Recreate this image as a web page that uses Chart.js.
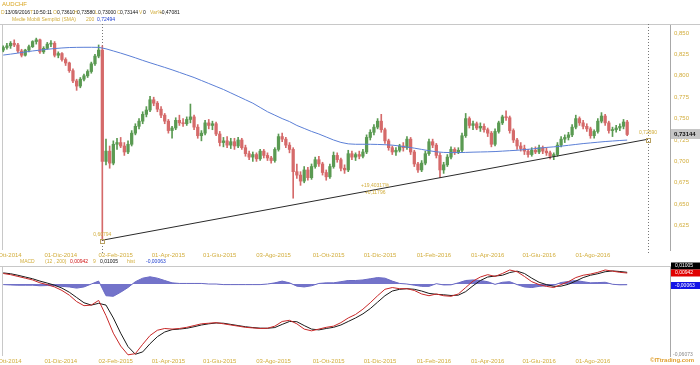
<!DOCTYPE html>
<html><head><meta charset="utf-8">
<script src="https://cdn.jsdelivr.net/npm/chart.js@4.4.1/dist/chart.umd.min.js"></script>
<style>
body{margin:0;width:700px;height:365px;background:#fff;position:relative;overflow:hidden;font-family:Arial,"Liberation Sans",sans-serif;}
canvas{position:absolute;left:0;}
.t{position:absolute;font-size:5px;line-height:6px;white-space:nowrap;z-index:5;}
.y{color:#d2ad3c}.k{color:#111}.r{color:#d01010}.b{color:#2040d0}
</style></head><body>
<canvas id="main" width="700" height="264" style="top:0"></canvas>
<canvas id="macd" width="700" height="103" style="top:262px"></canvas>

<div class="t" style="left:2px;top:1px;color:#d9a520;font-size:6px">AUDCHF</div>
<div class="t y" style="left:1px;top:9px">D</div><div class="t k" style="left:5px;top:9px">13/09/2016</div>
<div class="t y" style="left:30px;top:9px">T</div><div class="t k" style="left:33px;top:9px">10:50:11</div>
<div class="t y" style="left:53px;top:9px">O</div><div class="t k" style="left:57px;top:9px">0,73610</div>
<div class="t y" style="left:74px;top:9px">H</div><div class="t k" style="left:77px;top:9px">0,73580</div>
<div class="t y" style="left:95px;top:9px">L</div><div class="t k" style="left:98px;top:9px">0,73000</div>
<div class="t y" style="left:117px;top:9px">C</div><div class="t k" style="left:120px;top:9px">0,73144</div>
<div class="t y" style="left:139px;top:9px">V</div><div class="t k" style="left:143px;top:9px">0</div>
<div class="t y" style="left:150px;top:9px">Var%</div><div class="t k" style="left:160px;top:9px">-0,47081</div>
<div class="t y" style="left:12px;top:16px">Medie Mobili Semplici (SMA)</div>
<div class="t y" style="left:86px;top:16px">200</div><div class="t b" style="left:97px;top:16px">0,72494</div>

<div class="t y" style="left:20px;top:258px">MACD</div>
<div class="t y" style="left:45px;top:258px">(12 , 200)</div>
<div class="t r" style="left:70px;top:258px">0,00942</div>
<div class="t y" style="left:93px;top:258px">9</div>
<div class="t k" style="left:100px;top:258px">0,01005</div>
<div class="t y" style="left:127px;top:258px">hist</div>
<div class="t b" style="left:146px;top:258px">-0,00063</div>
<div class="t" style="left:650px;top:357px;font-size:6px;font-weight:bold;color:#e0a030">©ITtrading.com</div>

<script>
// ---- data ----
const tickLabels = ["01-Ott-2014","01-Dic-2014","02-Feb-2015","01-Apr-2015","01-Giu-2015","03-Ago-2015","01-Ott-2015","01-Dic-2015","01-Feb-2016","01-Apr-2016","01-Giu-2016","01-Ago-2016"];
const tickDays = [2,47,92,135,177,221,266,308,352,396,438,482];
const priceTicks = [0.625,0.650,0.675,0.700,0.725,0.750,0.775,0.800,0.825,0.850];
const candleStep = 3;   // trading days per candle
const opens = [.830,.833,.835,.838,.836,.829,.824,.830,.834,.840,.842,.828,.832,.837,.838,.824,.826,.819,.815,.806,.794,.788,.796,.800,.805,.814,.823,.830,.700,.712,.698,.720,.722,.718,.711,.720,.733,.741,.747,.755,.760,.772,.768,.761,.754,.747,.736,.739,.748,.745,.744,.749,.752,.740,.730,.733,.745,.742,.744,.732,.722,.724,.719,.723,.718,.725,.716,.709,.705,.708,.703,.712,.707,.704,.701,.714,.729,.726,.719,.714,.688,.684,.677,.690,.681,.694,.702,.697,.687,.682,.694,.707,.702,.692,.690,.709,.705,.708,.706,.711,.728,.734,.740,.747,.737,.724,.716,.711,.713,.718,.716,.726,.711,.697,.690,.698,.709,.723,.719,.707,.690,.696,.705,.714,.711,.713,.730,.750,.742,.744,.739,.741,.737,.733,.720,.735,.745,.752,.751,.736,.725,.718,.715,.712,.708,.713,.711,.716,.712,.710,.706,.708,.719,.726,.728,.731,.740,.750,.745,.741,.738,.730,.735,.747,.753,.745,.736,.737,.739,.741,.746];
const highs = [.835,.838,.840,.842,.838,.831,.831,.836,.841,.844,.843,.834,.839,.841,.840,.828,.827,.821,.816,.808,.796,.798,.802,.807,.816,.825,.836,.835,.726,.718,.724,.727,.728,.722,.724,.736,.744,.750,.758,.764,.776,.775,.770,.764,.756,.749,.741,.751,.754,.750,.752,.767,.754,.743,.736,.748,.749,.747,.746,.735,.728,.729,.727,.727,.728,.727,.719,.712,.711,.710,.714,.714,.710,.706,.716,.732,.733,.728,.722,.716,.697,.688,.694,.693,.697,.705,.706,.699,.690,.697,.711,.710,.704,.696,.713,.712,.710,.712,.714,.731,.737,.743,.750,.755,.739,.726,.718,.716,.720,.722,.729,.728,.713,.699,.701,.712,.726,.726,.721,.710,.699,.708,.717,.716,.716,.733,.756,.752,.747,.746,.745,.744,.739,.735,.738,.747,.754,.759,.753,.738,.727,.722,.719,.714,.716,.717,.719,.718,.716,.712,.710,.722,.729,.731,.734,.743,.754,.752,.748,.744,.740,.737,.750,.757,.755,.747,.740,.742,.744,.749,.748];
const lows = [.828,.831,.832,.834,.827,.822,.823,.828,.833,.837,.826,.826,.831,.834,.822,.821,.817,.812,.804,.792,.783,.786,.794,.798,.803,.812,.821,.608,.696,.692,.696,.714,.716,.707,.709,.718,.731,.738,.744,.752,.758,.765,.758,.751,.744,.733,.727,.737,.742,.741,.742,.745,.737,.727,.724,.731,.738,.737,.730,.718,.717,.716,.715,.714,.716,.714,.706,.702,.700,.700,.701,.704,.701,.698,.699,.712,.723,.716,.710,.657,.680,.672,.675,.678,.679,.692,.694,.684,.678,.680,.692,.699,.689,.686,.688,.702,.701,.703,.704,.709,.725,.731,.738,.734,.721,.713,.708,.707,.711,.712,.714,.708,.694,.687,.688,.696,.707,.716,.704,.681,.686,.694,.703,.708,.709,.711,.728,.739,.737,.737,.735,.734,.729,.717,.718,.733,.743,.748,.733,.722,.714,.712,.708,.705,.706,.709,.709,.709,.707,.703,.702,.706,.717,.722,.725,.729,.738,.742,.738,.735,.727,.727,.733,.745,.742,.733,.729,.734,.736,.738,.730];
const closes = [.833,.835,.838,.836,.829,.824,.830,.834,.840,.842,.828,.832,.837,.838,.824,.826,.819,.815,.806,.794,.788,.796,.800,.805,.814,.823,.830,.700,.712,.698,.720,.722,.718,.711,.720,.733,.741,.747,.755,.760,.772,.768,.761,.754,.747,.736,.739,.748,.745,.744,.749,.752,.740,.730,.733,.745,.742,.744,.732,.722,.724,.719,.723,.718,.725,.716,.709,.705,.708,.703,.712,.707,.704,.701,.714,.729,.726,.719,.714,.688,.684,.677,.690,.681,.694,.702,.697,.687,.682,.694,.707,.702,.692,.690,.709,.705,.708,.706,.711,.728,.734,.740,.747,.737,.724,.716,.711,.713,.718,.716,.726,.711,.697,.690,.698,.709,.723,.719,.707,.690,.696,.705,.714,.711,.713,.730,.750,.742,.744,.739,.741,.737,.733,.720,.735,.745,.752,.751,.736,.725,.718,.715,.712,.708,.713,.711,.716,.712,.710,.706,.708,.719,.726,.728,.731,.740,.750,.745,.741,.738,.730,.735,.747,.753,.745,.736,.737,.739,.741,.746,.73144];
const lineStep = 6;     // trading days per SMA / MACD point
const smaValues = [0.8242,0.8253,0.8265,0.8278,0.8290,0.8300,0.8310,0.8318,0.8325,0.8330,
 0.8332,0.8333,0.8333,0.8332,0.8315,0.8290,0.8265,0.8238,0.8210,0.8180,
 0.8152,0.8125,0.8098,0.8070,0.8040,0.8010,0.7980,0.7945,0.7910,0.7875,
 0.7840,0.7800,0.7760,0.7720,0.7680,0.7630,0.7580,0.7540,0.7500,0.7465,
 0.7420,0.7385,0.7350,0.7320,0.7285,0.7250,0.7222,0.7205,0.7200,0.7200,
 0.7200,0.7198,0.7195,0.7190,0.7180,0.7168,0.7155,0.7140,0.7125,0.7112,
 0.7105,0.7103,0.7103,0.7105,0.7108,0.7110,0.7112,0.7115,0.7120,0.7125,
 0.7130,0.7138,0.7145,0.7155,0.7163,0.7170,0.7178,0.7188,0.7198,0.7208,
 0.7216,0.7224,0.7232,0.7238,0.7244,0.7249];
const macdValues = [0.0090,0.0080,0.0065,0.0050,0.0035,0.0010,-0.0005,-0.0025,-0.0055,-0.0095,
 -0.0150,-0.0185,-0.0180,-0.0140,-0.0270,-0.0420,-0.0530,-0.0605,-0.0595,-0.0515,
 -0.0440,-0.0395,-0.0380,-0.0385,-0.0380,-0.0370,-0.0355,-0.0340,-0.0335,-0.0330,
 -0.0340,-0.0350,-0.0360,-0.0370,-0.0375,-0.0380,-0.0378,-0.0360,-0.0320,-0.0310,
 -0.0340,-0.0385,-0.0400,-0.0385,-0.0370,-0.0360,-0.0330,-0.0290,-0.0260,-0.0215,
 -0.0160,-0.0100,-0.0045,-0.0030,-0.0040,-0.0040,-0.0055,-0.0085,-0.0100,-0.0085,
 -0.0100,-0.0105,-0.0085,-0.0030,0.0025,0.0060,0.0080,0.0065,0.0090,0.0120,
 0.0105,0.0065,0.0020,-0.0005,-0.0020,-0.0030,-0.0005,0.0020,0.0055,0.0075,
 0.0085,0.0100,0.0120,0.0110,0.0100,0.0094];
const signalValues = [0.0095,0.0088,0.0075,0.0060,0.0045,0.0025,0.0008,-0.0010,-0.0035,-0.0070,
 -0.0115,-0.0160,-0.0180,-0.0165,-0.0180,-0.0290,-0.0420,-0.0535,-0.0600,-0.0580,
 -0.0510,-0.0450,-0.0410,-0.0390,-0.0385,-0.0378,-0.0365,-0.0350,-0.0340,-0.0333,
 -0.0335,-0.0345,-0.0355,-0.0365,-0.0372,-0.0377,-0.0378,-0.0372,-0.0345,-0.0320,
 -0.0322,-0.0355,-0.0385,-0.0392,-0.0380,-0.0370,-0.0350,-0.0320,-0.0290,-0.0255,
 -0.0210,-0.0155,-0.0100,-0.0060,-0.0045,-0.0040,-0.0045,-0.0060,-0.0080,-0.0088,
 -0.0092,-0.0098,-0.0095,-0.0065,-0.0015,0.0030,0.0060,0.0068,0.0075,0.0098,
 0.0110,0.0090,0.0050,0.0015,-0.0005,-0.0020,-0.0018,-0.0002,0.0025,0.0055,
 0.0075,0.0088,0.0105,0.0112,0.0107,0.0100];
const histValues = [-0.0005,-0.0008,-0.0010,-0.0010,-0.0010,-0.0015,-0.0013,-0.0015,-0.0020,-0.0025,
 -0.0035,-0.0025,0.0000,0.0025,-0.0100,-0.0105,-0.0070,-0.0030,0.0020,0.0050,
 0.0062,0.0050,0.0030,0.0010,0.0005,0.0005,0.0005,0.0005,0.0000,0.0000,
 -0.0005,-0.0005,-0.0005,-0.0005,-0.0005,-0.0005,0.0000,0.0010,0.0025,0.0010,
 -0.0018,-0.0025,-0.0015,0.0005,0.0010,0.0010,0.0020,0.0030,0.0030,0.0035,
 0.0045,0.0055,0.0050,0.0025,0.0005,0.0000,-0.0010,-0.0020,-0.0020,0.0003,
 -0.0008,-0.0007,0.0010,0.0030,0.0035,0.0030,0.0020,-0.0003,0.0015,0.0020,
 -0.0005,-0.0025,-0.0030,-0.0020,-0.0015,-0.0010,0.0013,0.0022,0.0030,0.0020,
 0.0010,0.0012,0.0015,-0.0002,-0.0007,-0.0006];
const trendX = [81, 527];
const trendY = [0.60794, 0.72590];
const trendLabels = ["0,60794", "0,72590"];
const trendDelta = ["+19,40317%", "+0,11796"];
const lastCloseLabel = "0,73144";
const macdLabels = {signal:"0,01005", macd:"0,00942", hist:"-0,00063", min:"-0,06073"};

// ---- styles ----
const YEL = '#d2ad3c', UP = '#5a9a52', DOWN = '#d56a6a';
Chart.defaults.font.family = 'Arial, "Liberation Sans", sans-serif';

const candleColor = c => { const i = c.dataIndex; return closes[i] >= opens[i] ? UP : DOWN; };
const wicks = lows.map((l, i) => ({x: i * candleStep, y: [l, highs[i]]}));
const bodies = opens.map((o, i) => ({x: i * candleStep, y: [o, closes[i]]}));
const sma = smaValues.map((v, i) => ({x: i * lineStep, y: v}));
const trend = trendX.map((v, i) => ({x: v, y: trendY[i]}));

const xAxis = (h) => ({
  type: 'linear', min: -1, max: 545, offset: false,
  afterBuildTicks: s => { s.ticks = tickDays.map(v => ({value: v})); },
  afterFit: s => { s.height = h; s.paddingLeft = 0; s.paddingRight = 0; },
  ticks: {autoSkip: false, maxRotation: 0, minRotation: 0, padding: 2,
          font: {size: 6}, color: YEL, callback: (v, i) => tickLabels[i]},
  grid: {display: false, drawTicks: false}, border: {display: false}
});

const mainDecor = {
  id: 'mainDecor',
  beforeDatasetsDraw(chart) {
    const {ctx, chartArea: a, scales: {x}} = chart;
    ctx.save();
    ctx.strokeStyle = '#c8c8c8'; ctx.lineWidth = 1;
    ctx.beginPath(); ctx.moveTo(0, a.top + 0.5); ctx.lineTo(chart.width, a.top + 0.5); ctx.stroke();
    ctx.beginPath(); ctx.moveTo(a.left + 0.5, a.top); ctx.lineTo(a.left + 0.5, a.bottom); ctx.stroke();
    ctx.setLineDash([1, 2]); ctx.strokeStyle = '#777';
    trendX.forEach(v => {
      const px = Math.round(x.getPixelForValue(v)) + 0.5;
      ctx.beginPath(); ctx.moveTo(px, a.top); ctx.lineTo(px, a.bottom + 3); ctx.stroke();
    });
    ctx.restore();
  },
  afterDatasetsDraw(chart) {
    const {ctx, chartArea: a, scales: {x, y}} = chart;
    ctx.save();
    const x0 = x.getPixelForValue(trendX[0]), y0 = y.getPixelForValue(trendY[0]);
    const x1 = x.getPixelForValue(trendX[1]), y1 = y.getPixelForValue(trendY[1]);
    ctx.font = '5px Arial'; ctx.fillStyle = YEL; ctx.textAlign = 'center'; ctx.textBaseline = 'middle';
    ctx.fillText(trendLabels[0], x0, y0 - 6);
    ctx.fillText(trendLabels[1], x1, y1 - 7);
    const xm = (x0 + x1) / 2, ym = (y0 + y1) / 2;
    ctx.fillText(trendDelta[0], xm, ym - 4);
    ctx.fillText(trendDelta[1], xm, ym + 3);
    ctx.strokeStyle = '#b8a060'; ctx.lineWidth = 1;
    ctx.strokeRect(Math.round(x0) - 1.5, Math.round(y0) - 0.5, 4, 4);
    ctx.strokeRect(Math.round(x1) - 1.5, Math.round(y1) - 0.5, 4, 4);
    const py = Math.round(y.getPixelForValue(closes[closes.length - 1]));
    ctx.fillStyle = '#c6c6c6'; ctx.fillRect(a.right + 1, py - 5, 30, 10);
    ctx.fillStyle = '#111'; ctx.font = 'bold 6px Arial'; ctx.textAlign = 'left';
    ctx.fillText(lastCloseLabel, a.right + 4, py);
    ctx.restore();
  }
};

new Chart(document.getElementById('main'), {
  type: 'bar',
  data: {datasets: [
    {type: 'line', data: trend, borderColor: '#2a2a2a', borderWidth: 1, pointRadius: 0, order: 0},
    {type: 'line', data: sma, borderColor: '#5b7fd6', borderWidth: 1, pointRadius: 0, order: 1},
    {type: 'bar', data: bodies, backgroundColor: candleColor, barThickness: 2.6, grouped: false, minBarLength: 1, order: 2},
    {type: 'bar', data: wicks, backgroundColor: candleColor, barThickness: 1, grouped: false, order: 3}
  ]},
  options: {
    responsive: false, animation: false, devicePixelRatio: 1, events: [],
    layout: {padding: {left: 2, top: 24, right: 0, bottom: 0}},
    plugins: {legend: {display: false}, tooltip: {enabled: false}},
    scales: {
      x: xAxis(14),
      y: {position: 'right', min: 0.5965, max: 0.8605,
        afterBuildTicks: s => { s.ticks = priceTicks.map(v => ({value: v})); },
        afterFit: s => { s.width = 30; s.paddingTop = 0; s.paddingBottom = 0; },
        ticks: {font: {size: 6}, color: YEL, padding: 4, callback: v => v.toFixed(3).replace('.', ',')},
        grid: {display: false, drawTicks: false}, border: {display: true, color: '#a8a8a8'}}
    }
  },
  plugins: [mainDecor]
});

const macdDecor = {
  id: 'macdDecor',
  afterDatasetsDraw(chart) {
    const {ctx, chartArea: a, scales: {y}} = chart;
    ctx.save();
    ctx.strokeStyle = '#c8c8c8'; ctx.lineWidth = 1;
    ctx.beginPath(); ctx.moveTo(0, a.top + 0.5); ctx.lineTo(chart.width, a.top + 0.5); ctx.stroke();
    ctx.beginPath(); ctx.moveTo(a.left + 0.5, a.top); ctx.lineTo(a.left + 0.5, a.bottom); ctx.stroke();
    const n = macdValues.length - 1;
    const ry = Math.round(y.getPixelForValue(macdValues[n]));
    const hy = Math.round(y.getPixelForValue(histValues[n]));
    const box = (cy, bg, txt) => {
      ctx.fillStyle = bg; ctx.fillRect(a.right + 1, cy - 3.5, 30, 7);
      ctx.fillStyle = '#fff'; ctx.font = '5px Arial'; ctx.textAlign = 'left'; ctx.textBaseline = 'middle';
      ctx.fillText(txt, a.right + 5, cy);
    };
    box(ry - 7, '#000', macdLabels.signal);
    box(ry, '#e00000', macdLabels.macd);
    box(hy + 0.5, '#1414e6', macdLabels.hist);
    ctx.fillStyle = '#888'; ctx.font = '5px Arial'; ctx.textAlign = 'left'; ctx.textBaseline = 'middle';
    ctx.fillText(macdLabels.min, a.right + 3, a.bottom - 1);
    ctx.restore();
  }
};

new Chart(document.getElementById('macd'), {
  type: 'line',
  data: {datasets: [
    {data: macdValues.map((v, i) => ({x: i * lineStep, y: v})), borderColor: '#c82828', borderWidth: 1, pointRadius: 0, order: 0},
    {data: signalValues.map((v, i) => ({x: i * lineStep, y: v})), borderColor: '#1a1a1a', borderWidth: 1, pointRadius: 0, order: 1},
    {data: histValues.map((v, i) => ({x: i * lineStep, y: v})), borderColor: '#6a6ac4', borderWidth: 1, backgroundColor: 'rgba(100,100,196,0.9)', fill: 'origin', pointRadius: 0, order: 2}
  ]},
  options: {
    responsive: false, animation: false, devicePixelRatio: 1, events: [],
    layout: {padding: {left: 2, top: 4, right: 0, bottom: 0}},
    plugins: {legend: {display: false}, tooltip: {enabled: false}},
    scales: {
      x: xAxis(9),
      y: {position: 'right', min: -0.0615, max: 0.0154,
        afterFit: s => { s.width = 30; s.paddingTop = 0; s.paddingBottom = 0; },
        ticks: {display: false}, grid: {display: false, drawTicks: false},
        border: {display: true, color: '#a8a8a8'}}
    }
  },
  plugins: [macdDecor]
});
</script>
</body></html>
